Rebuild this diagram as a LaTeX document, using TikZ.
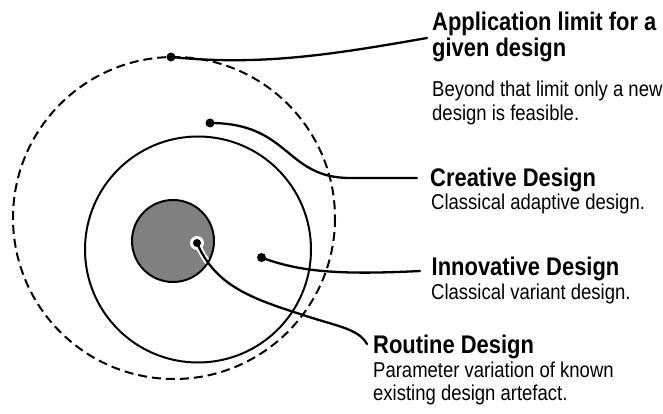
\documentclass[tikz,border=0pt]{standalone}
\usepackage{fontspec}
\setmainfont{Liberation Sans}[FakeStretch=0.86]
\definecolor{coregray}{RGB}{128,128,128}
\tikzset{
  head/.style={font=\fontsize{25.5}{30}\selectfont\bfseries, anchor=base west, inner sep=0pt},
  desc/.style={font=\fontsize{21.5}{25}\selectfont, anchor=base west, inner sep=0pt},
  dotnode/.style={circle, fill=black, inner sep=0pt, minimum size=9pt},
  lead/.style={line width=2.3pt, line cap=round},
  ring/.style={line width=2pt},
}
\begin{document}
\begin{tikzpicture}[x=1pt, y=-1pt]
\useasboundingbox (0,0) rectangle (663,414);

% circles
\draw[ring, dash pattern=on 9pt off 5pt] (174,218) circle[radius=161];
\draw[ring] (198,249.5) circle[radius=113];
\draw[ring, fill=coregray] (173,241) circle[radius=41];

% dots
\node[dotnode] (adot) at (171,57) {};
\node[dotnode] (cdot) at (210,123) {};
\node[dotnode] (idot) at (261.5,257.5) {};

% free ends of the leaders
\coordinate (aend) at (427,38);
\coordinate (cend) at (417,178);
\coordinate (iend) at (420,271);
\coordinate (rmid) at (300,314);
\coordinate (rend) at (367,344);

% white halo of the routine leader inside the core
\begin{scope}
  \clip (173,241) circle[radius=40];
  \draw[line width=6pt, white] (197,243) .. controls (215,285) and (250,298) .. (rmid);
  \fill[white] (197,243) circle[radius=7];
\end{scope}
\node[dotnode, minimum size=8pt] (rdot) at (197,243) {};

% leaders
\draw[lead] (adot.center) .. controls (260,66) and (330,55) .. (aend);
\draw[lead] (cdot.center) .. controls (290,123) and (285,178) .. (350,178) -- (cend);
\draw[lead] (idot.center) .. controls (300,272) and (340,275) .. (iend);
\draw[lead] (rdot.center) .. controls (215,285) and (250,298) .. (rmid)
  .. controls (335,326) and (358,328) .. (rend);

% texts
\node[head] (app1) at (432,30.7) {Application limit for a};
\node[head] (app2) at (432,57) {given design};
\node[desc] (appd1) at (432,97) {Beyond that limit only a new};
\node[desc] (appd2) at (432,121) {design is feasible.};

\node[head] (cre1) at (430,186) {Creative Design};
\node[desc] (cred1) at (431,209) {Classical adaptive design.};

\node[head] (inn1) at (431.5,275) {Innovative Design};
\node[desc] (innd1) at (431,299) {Classical variant design.};

\node[head] (rou1) at (373,353) {Routine Design};
\node[desc] (roud1) at (373,377) {Parameter variation of known};
\node[desc] (roud2) at (373,400) {existing design artefact.};
\end{tikzpicture}
\end{document}
